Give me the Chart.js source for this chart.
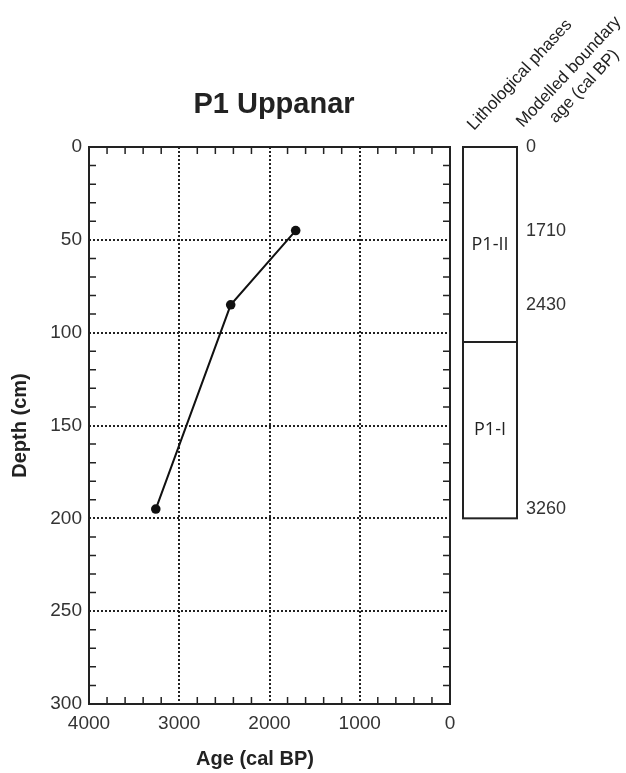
<!DOCTYPE html>
<html lang="en">
<head>
    <meta charset="UTF-8">
    <title>P1 Uppanar age-depth</title>
    <script src="https://cdn.jsdelivr.net/npm/chart.js@4.4.0/dist/chart.umd.min.js"></script>
    <style>
        body {
            margin: 0;
            background-color: white;
        }
        canvas {
            display: block;
        }
    </style>
</head>
<body>
    <canvas id="ageDepth" width="626" height="773"></canvas>

    <script>
        // data
        const ages = [1710, 2430, 3260];          // cal BP
        const depths = [45, 85, 195];             // cm
        const xTicks = [4000, 3000, 2000, 1000, 0];
        const yTicks = [0, 50, 100, 150, 200, 250, 300];
        const phaseNames = ['P1-II', 'P1-I'];
        const phaseBounds = [0, 105, 200];        // depth of phase boundaries
        const boundaryAges = ['0', '1710', '2430', '3260'];
        const boundaryDepths = [0, 45, 85, 195];

        const minorX = 200;
        const minorY = 10;
        const ink = '#222';

        const extras = {
            id: 'extras',
            afterDraw(chart) {
                const ctx = chart.ctx;
                const a = chart.chartArea;
                const x = chart.scales.x;
                const y = chart.scales.y;
                ctx.save();

                // inward minor ticks on all four sides
                ctx.strokeStyle = ink;
                ctx.lineWidth = 1.5;
                ctx.beginPath();
                for (let v = 0; v <= 4000; v += minorX) {
                    if (v % 1000 === 0) continue;
                    const px = x.getPixelForValue(v);
                    ctx.moveTo(px, a.top); ctx.lineTo(px, a.top + 7);
                    ctx.moveTo(px, a.bottom); ctx.lineTo(px, a.bottom - 7);
                }
                for (let v = 0; v <= 300; v += minorY) {
                    if (v % 50 === 0) continue;
                    const py = y.getPixelForValue(v);
                    ctx.moveTo(a.left, py); ctx.lineTo(a.left + 7, py);
                    ctx.moveTo(a.right, py); ctx.lineTo(a.right - 7, py);
                }
                ctx.stroke();

                // frame
                ctx.lineWidth = 2;
                ctx.strokeRect(a.left, a.top, a.right - a.left, a.bottom - a.top);

                // titles
                ctx.fillStyle = ink;
                ctx.textAlign = 'center';
                ctx.textBaseline = 'alphabetic';
                ctx.font = 'bold 29px "Liberation Sans", Arial, sans-serif';
                ctx.fillText('P1 Uppanar', 274, 113);

                ctx.font = 'bold 20px "Liberation Sans", Arial, sans-serif';
                ctx.fillText('Age (cal BP)', 255, 765);

                ctx.save();
                ctx.translate(26, (a.top + a.bottom) / 2);
                ctx.rotate(-Math.PI / 2);
                ctx.fillText('Depth (cm)', 0, 0);
                ctx.restore();

                // lithological column
                const colL = 463, colR = 517;
                ctx.lineWidth = 2;
                const top = y.getPixelForValue(phaseBounds[0]);
                const bot = y.getPixelForValue(phaseBounds[phaseBounds.length - 1]);
                ctx.strokeRect(colL, top, colR - colL, bot - top);
                ctx.beginPath();
                for (let i = 1; i < phaseBounds.length - 1; i++) {
                    const py = y.getPixelForValue(phaseBounds[i]);
                    ctx.moveTo(colL, py); ctx.lineTo(colR, py);
                }
                ctx.stroke();

                ctx.font = '18px "Open Sans", sans-serif';
                ctx.textBaseline = 'middle';
                phaseNames.forEach((name, i) => {
                    const mid = (phaseBounds[i] + phaseBounds[i + 1]) / 2;
                    ctx.fillText(name, (colL + colR) / 2, y.getPixelForValue(mid));
                });

                ctx.font = '18px "Liberation Sans", Arial, sans-serif';
                ctx.textAlign = 'left';
                ctx.fillStyle = '#333';
                boundaryAges.forEach((t, i) => {
                    ctx.fillText(t, 526, y.getPixelForValue(boundaryDepths[i]));
                });

                // slanted column headers
                const ang = -47 * Math.PI / 180;
                ctx.fillStyle = ink;
                ctx.font = '17px "Liberation Sans", Arial, sans-serif';
                ctx.textBaseline = 'alphabetic';
                ctx.save();
                ctx.translate(474, 131);
                ctx.rotate(ang);
                ctx.textAlign = 'left';
                ctx.fillText('Lithological phases', 0, 0);
                ctx.restore();

                ctx.save();
                ctx.translate(523, 128);
                ctx.rotate(ang);
                const w1 = ctx.measureText('Modelled boundary').width;
                ctx.textAlign = 'left';
                ctx.fillText('Modelled boundary', 0, 0);
                ctx.textAlign = 'center';
                ctx.fillText('age (cal BP)', w1 / 2, 21);
                ctx.restore();

                ctx.restore();
            }
        };

        Chart.defaults.font.family = '"Liberation Sans", Arial, sans-serif';
        Chart.defaults.color = '#333';

        const chart = new Chart(document.getElementById('ageDepth').getContext('2d'), {
            type: 'scatter',
            data: {
                datasets: [{
                    label: 'Age-depth',
                    data: ages.map((a, i) => ({x: a, y: depths[i]})),
                    showLine: true,
                    borderColor: '#111',
                    borderWidth: 2,
                    backgroundColor: '#111',
                    pointRadius: 4.8,
                    pointBorderWidth: 0
                }]
            },
            options: {
                responsive: false,
                animation: false,
                layout: {
                    padding: {top: 147, right: 176, bottom: 0, left: 0}
                },
                plugins: {
                    legend: {display: false},
                    tooltip: {enabled: false}
                },
                scales: {
                    x: {
                        type: 'linear',
                        min: 0,
                        max: 4000,
                        reverse: true,
                        afterFit: s => { s.height = 69; },
                        afterBuildTicks: s => { s.ticks = xTicks.map(v => ({value: v})); },
                        ticks: {
                            font: {size: 19},
                            padding: 8,
                            maxRotation: 0,
                            callback: v => String(v)
                        },
                        grid: {
                            color: '#222',
                            lineWidth: 2,
                            drawTicks: false
                        },
                        border: {display: false, dash: [2, 2]}
                    },
                    y: {
                        type: 'linear',
                        min: 0,
                        max: 300,
                        reverse: true,
                        afterFit: s => { s.width = 89; },
                        afterBuildTicks: s => { s.ticks = yTicks.map(v => ({value: v})); },
                        ticks: {
                            font: {size: 19},
                            padding: 7,
                            callback: v => String(v)
                        },
                        grid: {
                            color: '#222',
                            lineWidth: 2,
                            drawTicks: false
                        },
                        border: {display: false, dash: [2, 2]}
                    }
                }
            },
            plugins: [extras]
        });
    </script>
</body>
</html>
